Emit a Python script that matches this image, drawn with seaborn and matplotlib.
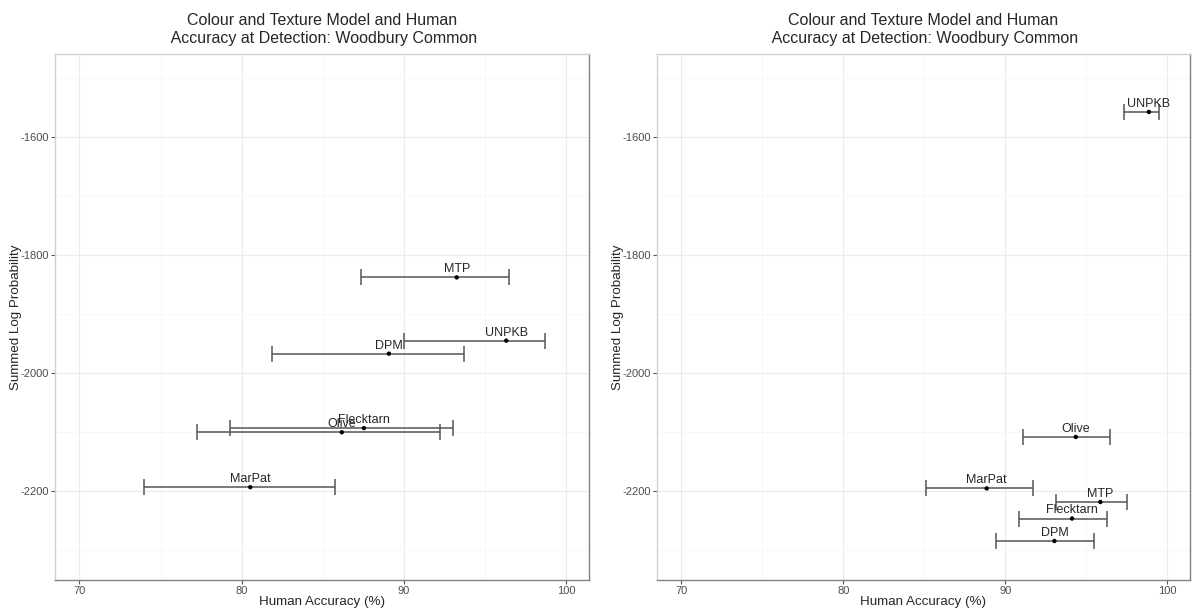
import pandas as pd
import seaborn as sns
from matplotlib import pyplot as plt

patterns = ['DPM', 'Flecktarn', 'MarPat', 'MTP', 'Olive', 'UNPKB']

# left panel
left_acc = [89.07, 87.53, 80.53, 93.25, 86.17, 96.3]
left_acc_lo = [81.85, 79.26, 73.97, 87.37, 77.26, 89.98]
left_acc_hi = [93.68, 93.0, 85.76, 96.5, 92.2, 98.68]
left_logp = [-1967, -2093, -2193, -1838, -2100, -1945]

# right panel
right_acc = [93.03, 94.12, 88.85, 95.87, 94.35, 98.86]
right_acc_lo = [89.4, 90.82, 85.12, 93.12, 91.09, 97.3]
right_acc_hi = [95.5, 96.3, 91.72, 97.53, 96.44, 99.5]
right_logp = [-2284, -2246, -2195, -2218, -2108, -1558]

x_ticks = [70, 80, 90, 100]
x_minor = [75, 85, 95]
y_ticks = [-2200, -2000, -1800, -1600]
y_minor = [-2300, -2100, -1900, -1700, -1500]
plot_title = 'Colour and Texture Model and Human\n Accuracy at Detection: Woodbury Common'

sns.set_style('white')
plt.rcParams['font.family'] = ['Liberation Sans', 'DejaVu Sans']
plt.rcParams['axes.unicode_minus'] = False


def model_human_plot(ax, acc, lo, hi, logp):
    df = pd.DataFrame({'Pattern': patterns, 'Accuracy': acc, 'Low': lo,
                       'High': hi, 'LogProb': logp})
    xerr = [df['Accuracy'] - df['Low'], df['High'] - df['Accuracy']]
    ax.errorbar(df['Accuracy'], df['LogProb'], xerr=xerr, fmt='none',
                ecolor='#555555', elinewidth=1.1, capsize=6, capthick=1.1, zorder=2)
    sns.scatterplot(x='Accuracy', y='LogProb', data=df, color='black', s=10,
                    edgecolor='none', ax=ax, zorder=3)
    for _, row in df.iterrows():
        ax.annotate(row['Pattern'], (row['Accuracy'], row['LogProb']), xytext=(0, 1.5),
                    textcoords='offset points', ha='center', va='bottom', fontsize=9)
    ax.set_xlim(68.5, 101.4)
    ax.set_ylim(-2350, -1460)
    ax.set_xticks(x_ticks)
    ax.set_xticks(x_minor, minor=True)
    ax.set_yticks(y_ticks)
    ax.set_yticks(y_minor, minor=True)
    ax.grid(which='major', color='#ebebeb', lw=0.8)
    ax.grid(which='minor', color='#f6f6f6', lw=0.6)
    ax.set_axisbelow(True)
    ax.tick_params(which='major', length=3, width=0.8, color='#555555',
                   labelsize=8, labelcolor='#4d4d4d', pad=1.5, bottom=True, left=True)
    ax.tick_params(which='minor', length=0)
    ax.set_title(plot_title, fontsize=11.5, pad=8)
    ax.set_xlabel('Human Accuracy (%)', fontsize=9.6, labelpad=0)
    ax.set_ylabel('Summed Log Probability', fontsize=9.6, labelpad=-1)
    for side in ['top', 'left']:
        ax.spines[side].set_color('#d0d0d0')
    for side in ['bottom', 'right']:
        ax.spines[side].set_color('#808080')
    for sp in ax.spines.values():
        sp.set_linewidth(1.0)


fig = plt.figure(figsize=(12, 6.08), dpi=100)
ax_left = fig.add_axes([55 / 1200, 1 - 580 / 608, 534 / 1200, 526 / 608])
ax_right = fig.add_axes([657 / 1200, 1 - 580 / 608, 533 / 1200, 526 / 608])
model_human_plot(ax_left, left_acc, left_acc_lo, left_acc_hi, left_logp)
model_human_plot(ax_right, right_acc, right_acc_lo, right_acc_hi, right_logp)
plt.savefig('out.png', dpi=100)
